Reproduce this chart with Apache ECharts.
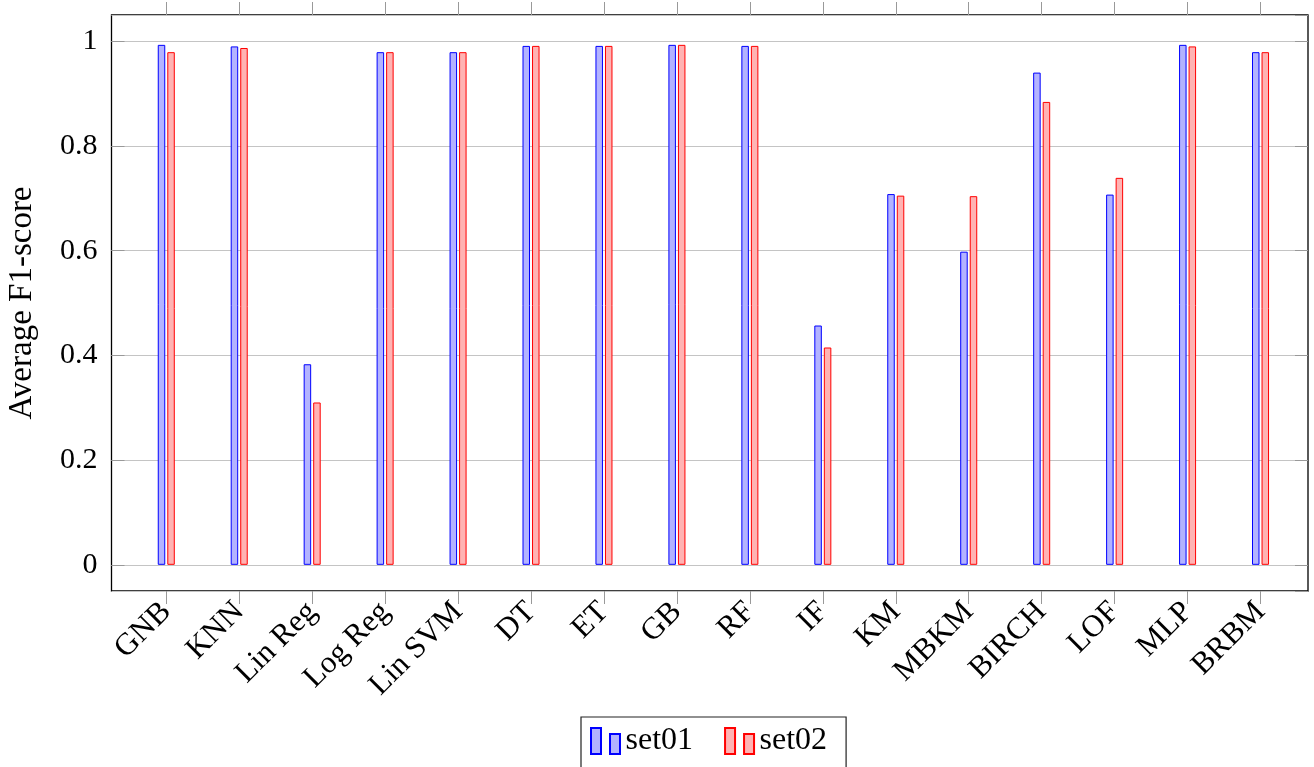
<!DOCTYPE html>
<html>
<head>
<meta charset="utf-8">
<script src="https://cdn.jsdelivr.net/npm/echarts@6/dist/echarts.min.js"></script>
<style>
  html, body { margin: 0; padding: 0; background: #fff; }
  #main { width: 1314px; height: 767px; }
</style>
</head>
<body>
<div id="main"></div>
<script>
// categories and values
var categories = ['GNB', 'KNN', 'Lin Reg', 'Log Reg', 'Lin SVM', 'DT', 'ET', 'GB', 'RF', 'IF', 'KM', 'MBKM', 'BIRCH', 'LOF', 'MLP', 'BRBM'];
var set01 = [0.993, 0.990, 0.383, 0.979, 0.979, 0.991, 0.991, 0.993, 0.991, 0.457, 0.708, 0.598, 0.940, 0.707, 0.993, 0.979];
var set02 = [0.979, 0.987, 0.310, 0.979, 0.979, 0.991, 0.991, 0.993, 0.991, 0.415, 0.705, 0.704, 0.884, 0.739, 0.990, 0.979];

var font = 'Liberation Serif';
var myChart = echarts.init(document.getElementById('main'));

option = {
    animation: false,
    textStyle: { fontFamily: font },
    legend: {
        data: ['set01', 'set02'],
        left: 581,
        top: 717,
        orient: 'horizontal',
        borderColor: '#222',
        borderWidth: 1.2,
        padding: [8, 19, 24, 9],
        itemGap: 31,
        itemWidth: 30,
        itemHeight: 26,
        icon: 'path://M0,0 h10 v26 h-10 Z M19,6 h10 v20 h-10 Z',
        textStyle: { fontFamily: font, fontSize: 32, color: '#000' }
    },
    grid: [
        // outer frame
        { left: 111.5, top: 15, width: 1196.5, height: 576, show: true, borderColor: '#000', borderWidth: 1.3, outerBoundsMode: 'none', containLabel: false },
        // bars
        { left: 129.8, top: 15, width: 1167.2, height: 576, outerBoundsMode: 'none', containLabel: false }
    ],
    xAxis: [
        { gridIndex: 0, type: 'value', show: false },
        {
            gridIndex: 1, type: 'category', data: categories, position: 'bottom',
            axisLine: { show: false, onZero: false },
            axisTick: { show: true, alignWithLabel: true, length: 13, lineStyle: { color: '#999' } },
            axisLabel: { rotate: 45, interval: 0, margin: 16, fontSize: 31, color: '#000', fontFamily: font }
        },
        {
            gridIndex: 1, type: 'category', data: categories, position: 'top',
            axisLine: { show: false, onZero: false },
            axisTick: { show: true, alignWithLabel: true, length: 13, lineStyle: { color: '#999' } },
            axisLabel: { show: false }
        }
    ],
    yAxis: [
        {
            gridIndex: 0, type: 'value', min: -0.05, max: 1.05, position: 'left',
            name: 'Average F1-score', nameLocation: 'middle', nameGap: 73,
            nameTextStyle: { fontFamily: font, fontSize: 33, color: '#000' },
            axisLine: { show: false },
            axisTick: { show: true, inside: true, length: 13, lineStyle: { color: '#999' } },
            axisLabel: { showMinLabel: false, showMaxLabel: false, margin: 14, fontSize: 30, color: '#000', fontFamily: font },
            splitLine: { show: true, lineStyle: { color: '#c4c4c4', width: 1.2 } }
        },
        {
            gridIndex: 0, type: 'value', min: -0.05, max: 1.05, position: 'right',
            axisLine: { show: false },
            axisTick: { show: true, inside: true, length: 13, lineStyle: { color: '#999' } },
            axisLabel: { show: false },
            splitLine: { show: false }
        },
        { gridIndex: 1, type: 'value', min: -0.05, max: 1.05, show: false }
    ],
    series: [
        {
            name: 'set01', type: 'bar', xAxisIndex: 1, yAxisIndex: 2,
            data: set01, barWidth: 7.5, barGap: '27%',
            itemStyle: { color: '#b3b3ff', borderColor: '#0000ff', borderWidth: 1 }
        },
        {
            name: 'set02', type: 'bar', xAxisIndex: 1, yAxisIndex: 2,
            data: set02, barWidth: 7.5, barGap: '27%',
            itemStyle: { color: '#ffb3b3', borderColor: '#ff0000', borderWidth: 1 }
        }
    ]
};
myChart.setOption(option);
</script>
</body>
</html>
